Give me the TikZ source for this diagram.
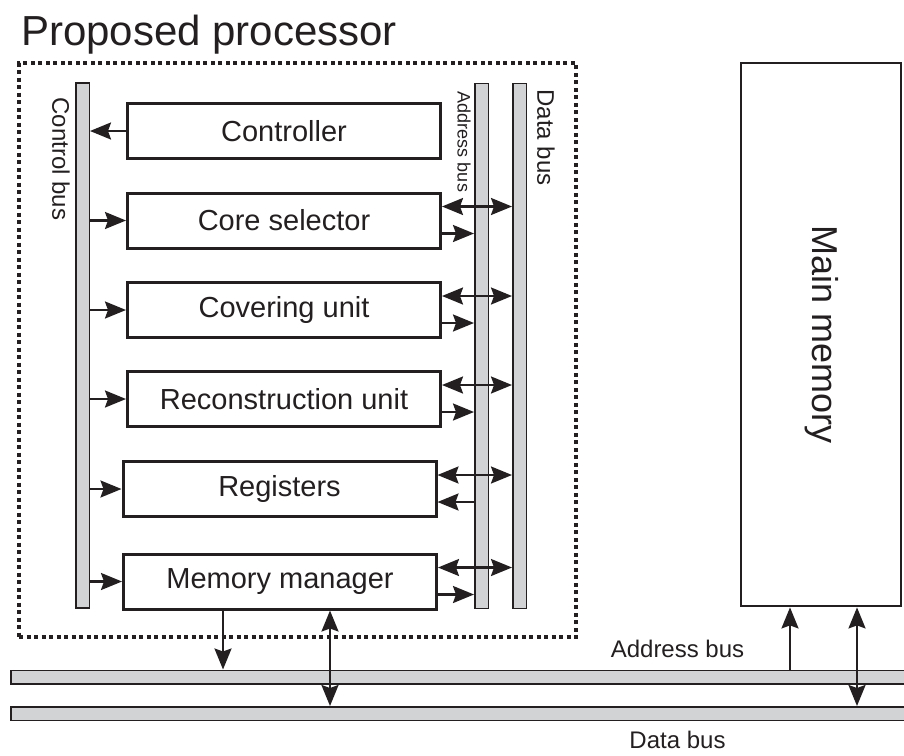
\documentclass[tikz,border=0pt]{standalone}
\usepackage{fontspec}
\setmainfont{Liberation Sans}
\usetikzlibrary{arrows.meta,calc}
\definecolor{ink}{HTML}{231F20}
\definecolor{busgray}{HTML}{D1D3D4}

\begin{document}
\begin{tikzpicture}[x=1pt,y=-1pt,
  unit/.style={draw=ink, line width=3pt, fill=white, text=ink,
    minimum width=313pt, minimum height=55pt, inner sep=0pt,
    font=\fontsize{29}{34}\selectfont},
  vbar/.style={draw=ink, fill=busgray, line width=1.5pt,
    minimum width=13.5pt, minimum height=525pt, inner sep=0pt},
  hbar/.style={draw=ink, fill=busgray, line width=1.5pt,
    minimum width=904pt, minimum height=13.5pt, inner sep=0pt},
  lbl/.style={text=ink, inner sep=0pt},
  arr/.style={draw=ink, line width=2.2pt,
    -{Stealth[length=21pt,width=17pt,inset=3pt]}},
  biarr/.style={draw=ink, line width=2.2pt,
    {Stealth[length=21pt,width=17pt,inset=3pt]}-{Stealth[length=21pt,width=17pt,inset=3pt]}},
  frame/.style={draw=ink, line width=4pt, dash pattern=on 4pt off 3.5pt,
    minimum width=557pt, minimum height=574pt, inner sep=0pt}
]
\useasboundingbox (0,0) rectangle (904,755);
\clip (0,0) rectangle (904,755);

% processor outline and title
\node[frame] (proc) at (297.5,350) {};
\node[lbl, anchor=base west, font=\fontsize{42}{48}\selectfont] (title) at (21,45) {Proposed processor};

% internal buses
\node[vbar] (cbus) at (82.5,345.5) {};
\node[vbar] (abus) at (481.5,346) {};
\node[vbar] (dbus) at (519.5,346) {};
\node[lbl, rotate=-90, font=\fontsize{24}{28}\selectfont] (cbl) at (61,159) {Control bus};
\node[lbl, rotate=-90, font=\fontsize{18}{21}\selectfont] (abl) at (464,142) {Address bus};
\node[lbl, rotate=-90, font=\fontsize{24}{28}\selectfont] (dbl) at (546,137.5) {Data bus};

% functional units
\node[unit] (ctrl)  at (284,131)   {Controller};
\node[unit] (core)  at (284,220.5) {Core selector};
\node[unit] (cover) at (284,310)   {Covering unit};
\node[unit] (recon) at (284,399)   {Reconstruction unit};
\node[unit] (regs)  at (279.5,489) {Registers};
\node[unit] (mm)    at (280,581.5) {Memory manager};

% system buses
\node[hbar] (habus) at (463,677) {};
\node[hbar] (hdbus) at (463,713.5) {};
\node[lbl, anchor=base, font=\fontsize{24}{28}\selectfont] (hal) at (677.5,657) {Address bus};
\node[lbl, anchor=base, font=\fontsize{24}{28}\selectfont] (hdl) at (677.5,748) {Data bus};

% main memory
\node[draw=ink, line width=2.8pt, minimum width=160pt, minimum height=543pt, inner sep=0pt] (mem) at (821,334.5) {};
\node[lbl, rotate=-90, font=\fontsize{36}{42}\selectfont] (meml) at (822,335) {Main memory};

% control bus links
\draw[arr] (ctrl.west) -- (ctrl.west -| cbus.east);
\foreach \n in {core,cover,recon,regs,mm}
  \draw[arr] (\n.west -| cbus.east) -- (\n.west);

% address and data bus links
\foreach \n in {core,cover,recon,regs,mm}
  \draw[biarr] ([yshift=14pt]\n.east) -- ([yshift=14pt]\n.east -| dbus.west);
\foreach \n in {core,cover,recon,mm}
  \draw[arr] ([yshift=-13pt]\n.east) -- ([yshift=-13pt]\n.east -| abus.west);
\draw[arr] ([yshift=-13pt]regs.east -| abus.west) -- ([yshift=-13pt]regs.east);

% memory manager to system buses
\draw[arr] ([xshift=-57pt]mm.south) -- ([xshift=-57pt]mm.south |- habus.north);
\draw[biarr] ([xshift=50pt]mm.south) -- ([xshift=50pt]mm.south |- hdbus.north);

% system buses to main memory
\draw[arr] ([xshift=-31pt]mem.south |- habus.north) -- ([xshift=-31pt]mem.south);
\draw[biarr] ([xshift=36pt]mem.south |- hdbus.north) -- ([xshift=36pt]mem.south);
\end{tikzpicture}
\end{document}
